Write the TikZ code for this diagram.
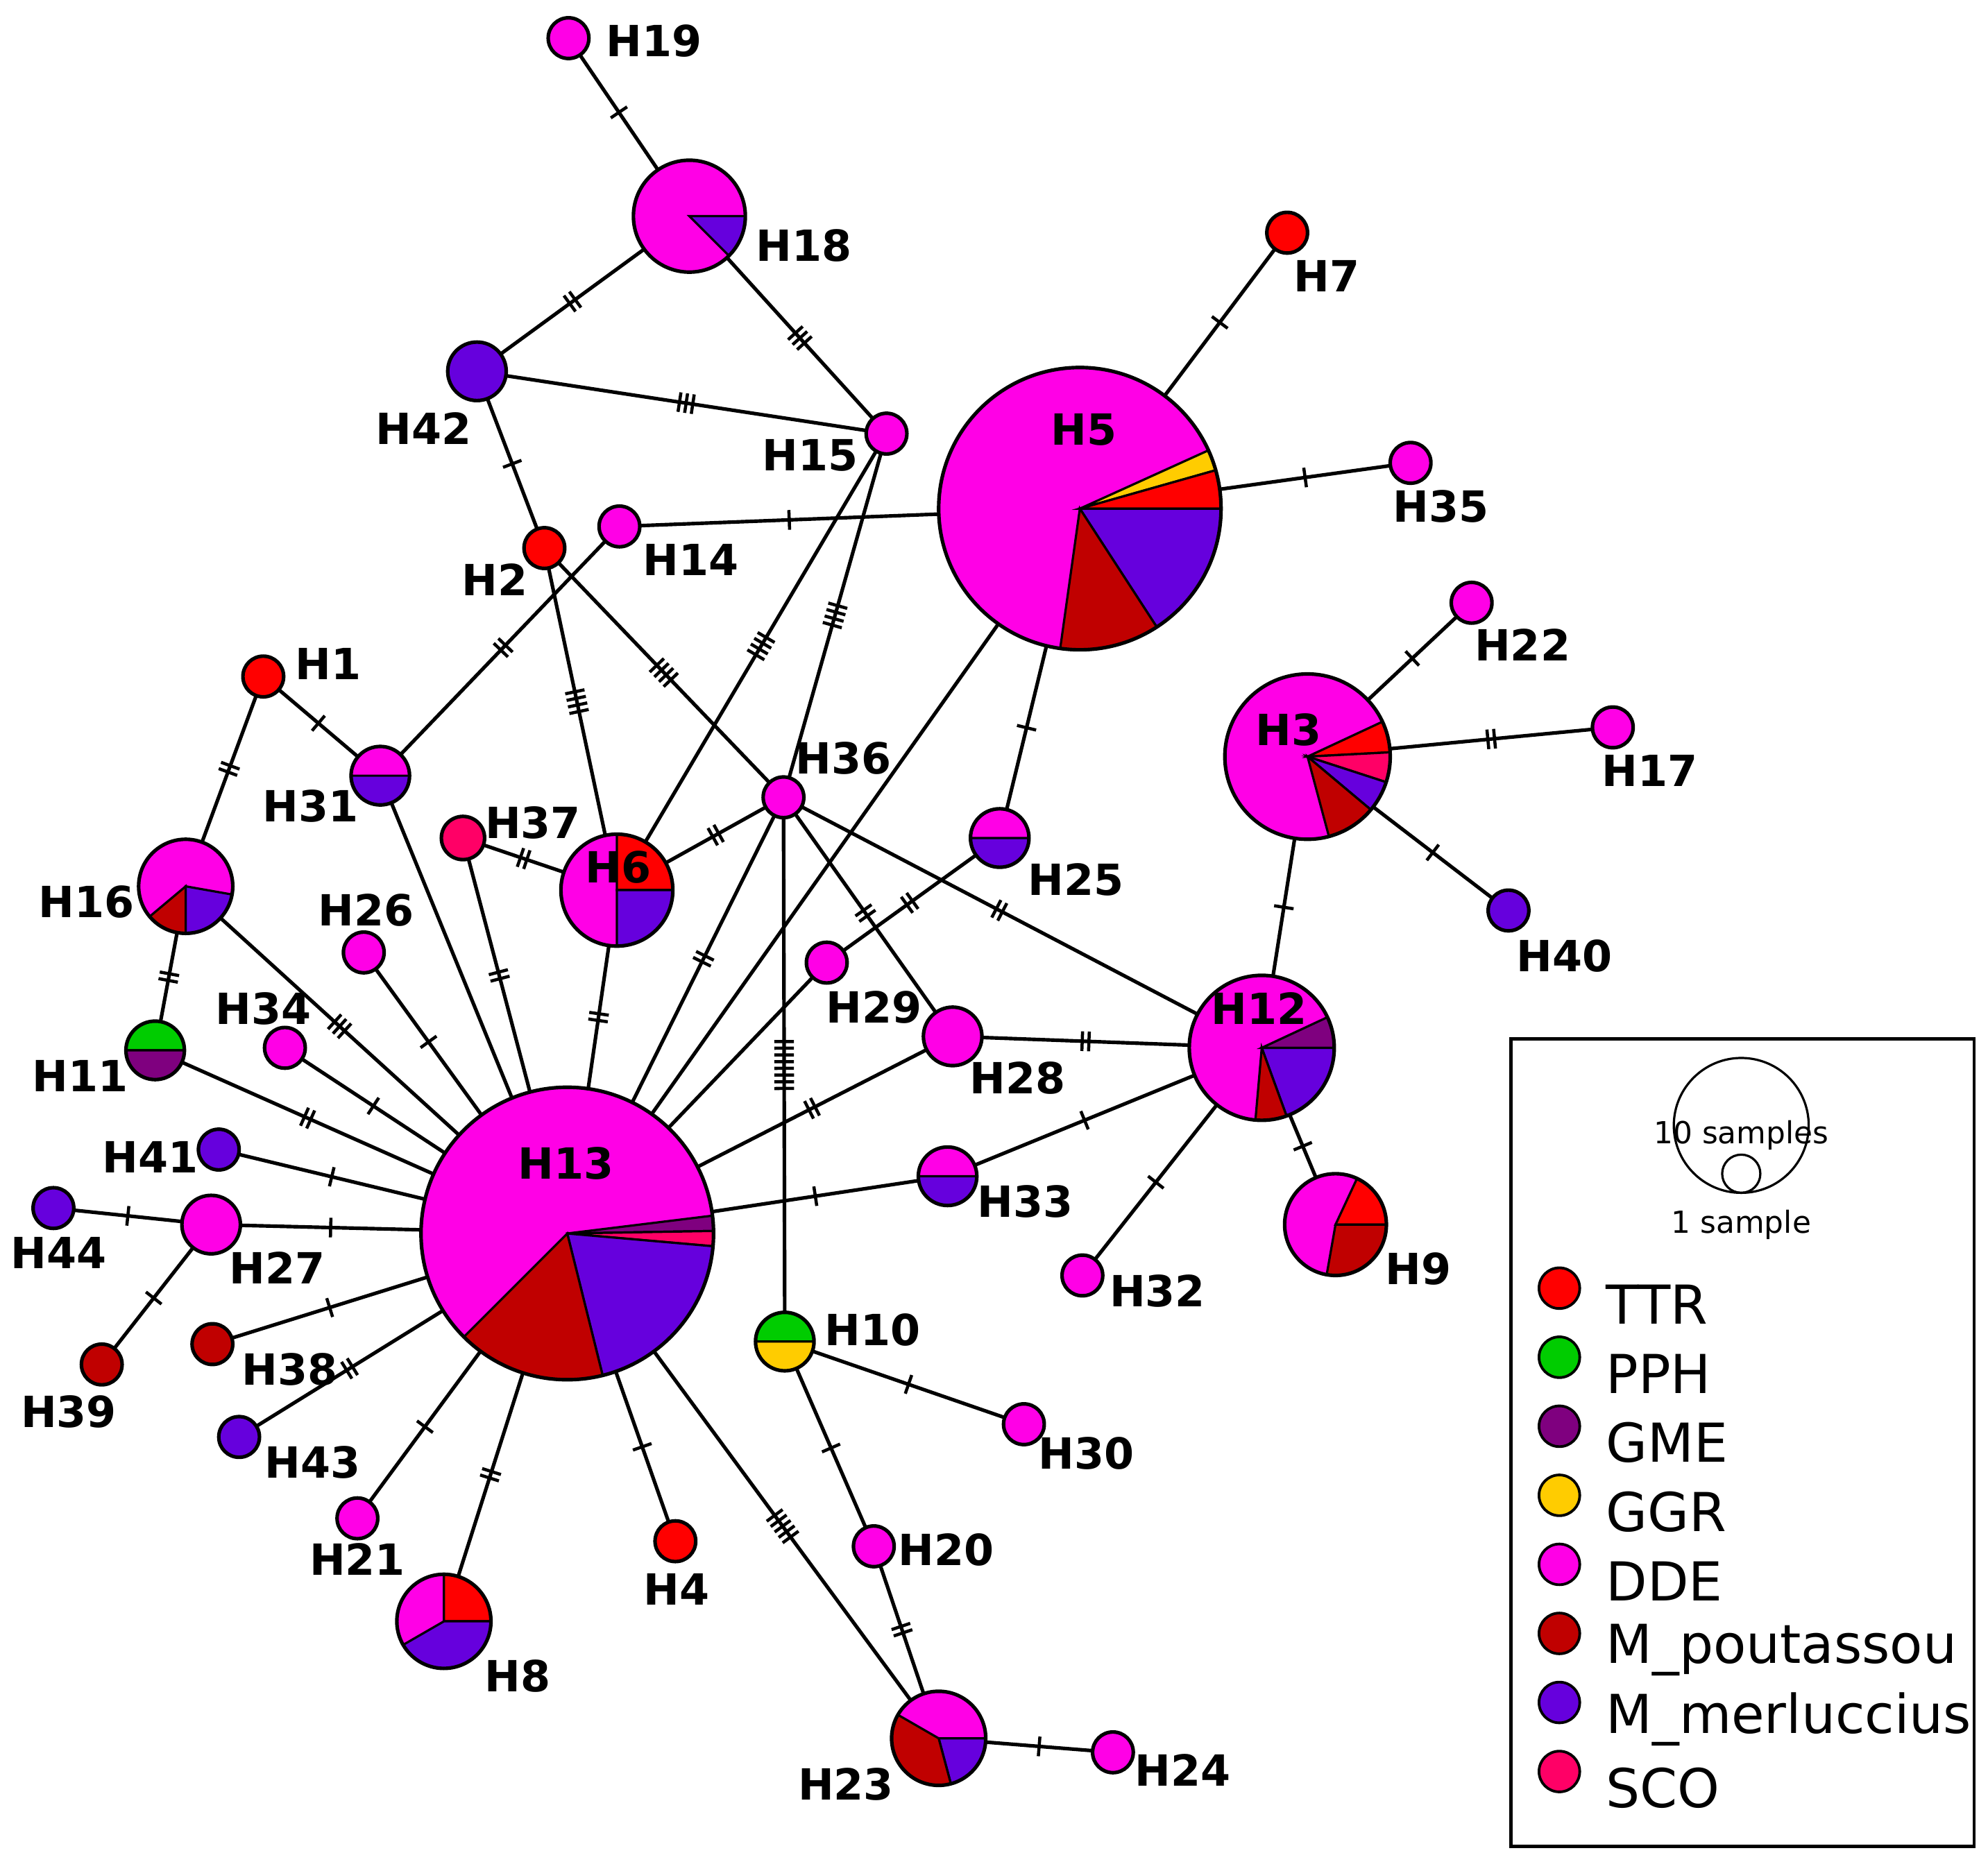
\documentclass[tikz,border=0pt]{standalone}
\usepackage{fontspec}
\setmainfont{DejaVu Sans}
\usetikzlibrary{decorations.markings}
\definecolor{TTR}{HTML}{FF0000}
\definecolor{PPH}{HTML}{00CC00}
\definecolor{GME}{HTML}{7F007F}
\definecolor{GGR}{HTML}{FFCC00}
\definecolor{DDE}{HTML}{FF00E6}
\definecolor{MPO}{HTML}{C00000}
\definecolor{MME}{HTML}{6600DD}
\definecolor{SCO}{HTML}{FF0066}
\newcommand{\hap}[4]{\node[circle,inner sep=0pt,minimum size=#4*0.02cm] (#1) at (#2,#3) {};}
\newcommand{\hapfill}[3]{\fill[#3] (#1.center) circle[radius=#2];}
\newcommand{\slc}[5]{\fill[#5,draw=black,line width=0.5pt] (#1.center) -- ++(#3:#2) arc[start angle=#3,end angle=#4,radius=#2] -- cycle;}
\newcommand{\hout}[2]{\draw[line width=0.8pt] (#1.center) circle[radius=#2];}
\newcommand{\lab}[3]{\node[lbl] at (#1,#2) {#3};}
\begin{document}
\begin{tikzpicture}[x=0.01cm,y=-0.01cm,
  lbl/.style={font=\fontsize{9.6}{10}\selectfont\bfseries,inner sep=0pt},
  ed/.style={line width=0.8pt},
  tk/.style={postaction={decorate},decoration={markings,mark=at position 0.5 with {\foreach \i in {1,...,#1}{\pgfmathsetmacro\xx{(\i-(#1+1)/2)*1.5}\draw[line width=0.7pt] (\xx pt,-2.2pt)--(\xx pt,2.2pt);}}}}]
\useasboundingbox (0,0) rectangle (1563,1464);
% nodes
\hap{H19}{447}{30}{16}
\hap{H18}{542}{170}{44}
\hap{H7}{1012}{183}{16}
\hap{H5}{849}{400}{111}
\hap{H35}{1109}{364}{16}
\hap{H15}{697}{341}{16}
\hap{H42}{375}{292}{23}
\hap{H14}{487}{414}{16}
\hap{H2}{428}{431}{16}
\hap{H1}{207}{532}{16}
\hap{H31}{299}{610}{23}
\hap{H16}{146}{697}{37}
\hap{H11}{122}{826}{23}
\hap{H37}{364}{659}{17}
\hap{H6}{485}{700}{44}
\hap{H36}{616}{627}{16}
\hap{H25}{786}{659}{23}
\hap{H26}{286}{749}{16}
\hap{H29}{650}{757}{16}
\hap{H28}{749}{815}{23}
\hap{H34}{224}{824}{16}
\hap{H41}{172}{904}{16}
\hap{H44}{42}{950}{16}
\hap{H27}{166}{963}{23}
\hap{H39}{80}{1073}{16}
\hap{H38}{167}{1057}{16}
\hap{H43}{188}{1130}{16}
\hap{H21}{281}{1194}{16}
\hap{H13}{446}{970}{115}
\hap{H8}{349}{1275}{37}
\hap{H4}{531}{1212}{16}
\hap{H10}{617}{1055}{23}
\hap{H30}{805}{1120}{16}
\hap{H20}{687}{1216}{16}
\hap{H23}{738}{1367}{37}
\hap{H24}{875}{1378}{16}
\hap{H33}{745}{925}{23}
\hap{H32}{851}{1003}{16}
\hap{H12}{992}{824}{57}
\hap{H9}{1050}{963}{40}
\hap{H3}{1028}{595}{65}
\hap{H22}{1157}{474}{16}
\hap{H17}{1268}{572}{16}
\hap{H40}{1186}{716}{16}
% edges
\draw[ed,tk=1] (H19)--(H18);
\draw[ed,tk=2] (H18)--(H42);
\draw[ed,tk=3] (H18)--(H15);
\draw[ed,tk=3] (H42)--(H15);
\draw[ed,tk=1] (H42)--(H2);
\draw[ed,tk=4] (H2)--(H6);
\draw[ed,tk=4] (H2)--(H36);
\draw[ed,tk=1] (H14)--(H5);
\draw[ed,tk=2] (H14)--(H31);
\draw[ed,tk=4] (H15)--(H6);
\draw[ed,tk=4] (H15)--(H36);
\draw[ed,tk=1] (H5)--(H7);
\draw[ed,tk=1] (H5)--(H35);
\draw[ed,tk=1] (H5)--(H25);
\draw[ed] (H5)--(H13);
\draw[ed,tk=1] (H1)--(H31);
\draw[ed,tk=2] (H1)--(H16);
\draw[ed] (H31)--(H13);
\draw[ed,tk=2] (H37)--(H6);
\draw[ed,tk=2] (H37)--(H13);
\draw[ed,tk=2] (H6)--(H36);
\draw[ed,tk=2] (H6)--(H13);
\draw[ed,tk=8] (H36)--(H10);
\draw[ed,tk=2] (H36)--(H28);
\draw[ed,tk=2] (H36)--(H12);
\draw[ed,tk=2] (H36)--(H13);
\draw[ed,tk=2] (H25)--(H29);
\draw[ed] (H29)--(H13);
\draw[ed,tk=1] (H26)--(H13);
\draw[ed,tk=2] (H16)--(H11);
\draw[ed,tk=3] (H16)--(H13);
\draw[ed,tk=2] (H11)--(H13);
\draw[ed,tk=1] (H34)--(H13);
\draw[ed,tk=1] (H41)--(H13);
\draw[ed,tk=1] (H27)--(H13);
\draw[ed,tk=1] (H44)--(H27);
\draw[ed,tk=1] (H27)--(H39);
\draw[ed,tk=1] (H38)--(H13);
\draw[ed,tk=2] (H43)--(H13);
\draw[ed,tk=1] (H21)--(H13);
\draw[ed,tk=2] (H8)--(H13);
\draw[ed,tk=1] (H4)--(H13);
\draw[ed,tk=5] (H23)--(H13);
\draw[ed,tk=1] (H13)--(H33);
\draw[ed,tk=2] (H13)--(H28);
\draw[ed,tk=1] (H10)--(H30);
\draw[ed,tk=1] (H10)--(H20);
\draw[ed,tk=2] (H20)--(H23);
\draw[ed,tk=1] (H23)--(H24);
\draw[ed,tk=2] (H28)--(H12);
\draw[ed,tk=1] (H33)--(H12);
\draw[ed,tk=1] (H32)--(H12);
\draw[ed,tk=1] (H12)--(H9);
\draw[ed,tk=1] (H12)--(H3);
\draw[ed,tk=1] (H3)--(H22);
\draw[ed,tk=2] (H3)--(H17);
\draw[ed,tk=1] (H3)--(H40);
% fills
\foreach \n/\r in {H19/16,H18/44,H5/111,H35/16,H15/16,H14/16,H31/23,H16/37,H6/44,H36/16,H25/23,H26/16,H29/16,H28/23,H34/16,H27/23,H21/16,H13/115,H8/37,H30/16,H20/16,H23/37,H24/16,H33/23,H32/16,H12/57,H9/40,H3/65,H22/16,H17/16}{\hapfill{\n}{\r}{DDE}}
\foreach \n/\r in {H7/16,H2/16,H1/16,H4/16}{\hapfill{\n}{\r}{TTR}}
\foreach \n/\r in {H42/23,H41/16,H44/16,H43/16,H40/16}{\hapfill{\n}{\r}{MME}}
\foreach \n/\r in {H39/16,H38/16}{\hapfill{\n}{\r}{MPO}}
\hapfill{H37}{17}{SCO}
\slc{H18}{44}{0}{45}{MME}
\slc{H5}{111}{-24.4}{-15.8}{GGR}
\slc{H5}{111}{-15.8}{0}{TTR}
\slc{H5}{111}{0}{57}{MME}
\slc{H5}{111}{57}{98}{MPO}
\slc{H31}{23}{0}{180}{MME}
\slc{H16}{37}{10}{90}{MME}
\slc{H16}{37}{90}{140}{MPO}
\slc{H11}{23}{180}{360}{PPH}
\slc{H11}{23}{0}{180}{GME}
\slc{H6}{44}{-90}{0}{TTR}
\slc{H6}{44}{0}{90}{MME}
\slc{H25}{23}{0}{180}{MME}
\slc{H13}{115}{-7}{-1}{GME}
\slc{H13}{115}{-1}{5}{SCO}
\slc{H13}{115}{5}{76}{MME}
\slc{H13}{115}{76}{135}{MPO}
\slc{H8}{37}{-90}{0}{TTR}
\slc{H8}{37}{0}{150}{MME}
\slc{H10}{23}{180}{360}{PPH}
\slc{H10}{23}{0}{180}{GGR}
\slc{H23}{37}{0}{75}{MME}
\slc{H23}{37}{75}{210}{MPO}
\slc{H33}{23}{0}{180}{MME}
\slc{H12}{57}{-25}{0}{GME}
\slc{H12}{57}{0}{70}{MME}
\slc{H12}{57}{70}{95}{MPO}
\slc{H9}{40}{-65}{0}{TTR}
\slc{H9}{40}{0}{100}{MPO}
\slc{H3}{65}{-25}{-3}{TTR}
\slc{H3}{65}{-3}{18}{SCO}
\slc{H3}{65}{18}{40}{MME}
\slc{H3}{65}{40}{75}{MPO}
\foreach \n/\r in {H19/16,H18/44,H7/16,H5/111,H35/16,H15/16,H42/23,H14/16,H2/16,H1/16,H31/23,H16/37,H11/23,H37/17,H6/44,H36/16,H25/23,H26/16,H29/16,H28/23,H34/16,H41/16,H44/16,H27/23,H39/16,H38/16,H43/16,H21/16,H13/115,H8/37,H4/16,H10/23,H30/16,H20/16,H23/37,H24/16,H33/23,H32/16,H12/57,H9/40,H3/65,H22/16,H17/16,H40/16}{\hout{\n}{\r}}
% labels
\lab{514}{32}{H19}\lab{632}{193}{H18}\lab{1043}{217}{H7}\lab{852}{338}{H5}
\lab{1133}{398}{H35}\lab{333}{337}{H42}\lab{637}{358}{H15}\lab{543}{440}{H14}
\lab{389}{456}{H2}\lab{258}{522}{H1}\lab{244}{634}{H31}\lab{663}{596}{H36}
\lab{419}{647}{H37}\lab{486}{682}{H6}\lab{846}{692}{H25}\lab{68}{709}{H16}
\lab{288}{716}{H26}\lab{687}{792}{H29}\lab{800}{848}{H28}\lab{207}{793}{H34}
\lab{63}{846}{H11}\lab{118}{910}{H41}\lab{46}{985}{H44}\lab{218}{997}{H27}
\lab{54}{1110}{H39}\lab{228}{1077}{H38}\lab{246}{1150}{H43}\lab{281}{1226}{H21}
\lab{445}{915}{H13}\lab{407}{1318}{H8}\lab{532}{1250}{H4}\lab{686}{1046}{H10}
\lab{854}{1143}{H30}\lab{744}{1219}{H20}\lab{665}{1403}{H23}\lab{930}{1392}{H24}
\lab{806}{945}{H33}\lab{910}{1015}{H32}\lab{990}{793}{H12}\lab{1115}{998}{H9}
\lab{1013}{574}{H3}\lab{1197}{507}{H22}\lab{1297}{606}{H17}\lab{1230}{752}{H40}
% legend
\node[draw,line width=0.7pt,minimum width=364*0.01cm,minimum height=635*0.01cm,inner sep=0pt] (leg) at (1370,1134.5) {};
\node[circle,draw,line width=0.5pt,minimum size=1.06cm,inner sep=0pt] (big) at (1369,885) {};
\node[circle,draw,line width=0.5pt,minimum size=0.3cm,inner sep=0pt] (small) at (1369,923) {};
\node[font=\fontsize{6.8}{7}\selectfont,inner sep=0pt] (t10) at (1369,893) {10 samples};
\node[font=\fontsize{6.8}{7}\selectfont,inner sep=0pt] (t1) at (1369,963) {1 sample};
\foreach \c/\t [count=\k from 0] in {TTR/TTR,PPH/PPH,GME/GME,GGR/GGR,DDE/DDE,MPO/M\_poutassou,MME/M\_merluccius,SCO/SCO}{
  \node[circle,fill=\c,draw,line width=0.6pt,minimum size=0.32cm,inner sep=0pt] (lc\k) at (1226,1013+54.3*\k) {};
  \node[anchor=west,font=\fontsize{12}{13}\selectfont,inner sep=0pt] (lt\k) at (1262,1026+54.3*\k) {\t};
}
\end{tikzpicture}
\end{document}
